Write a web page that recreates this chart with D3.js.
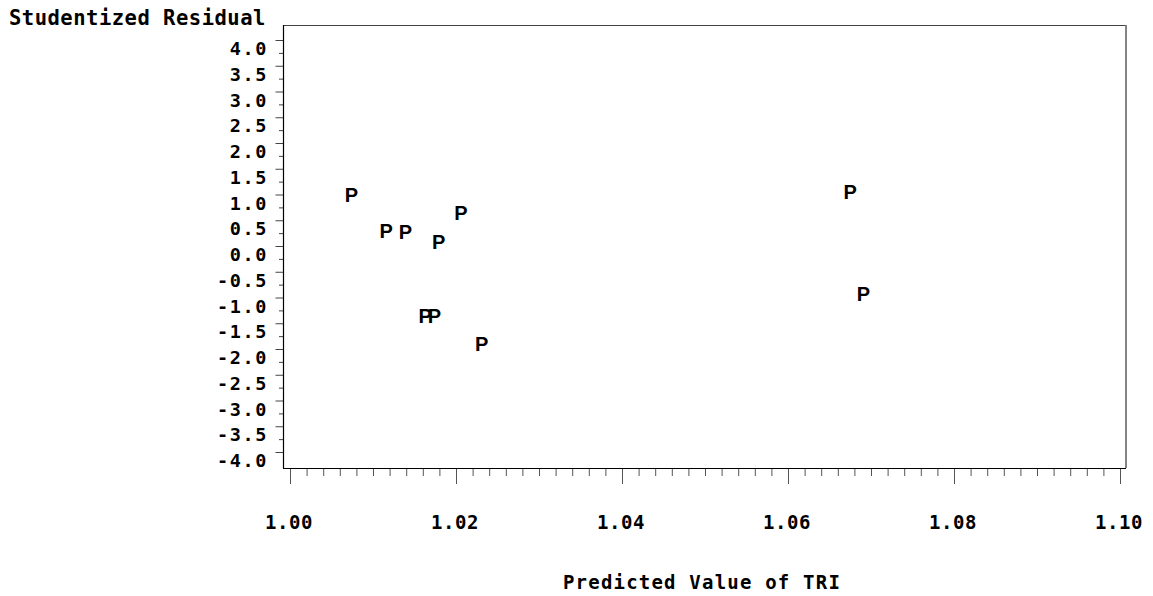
<!DOCTYPE html>
<html>
<head>
<meta charset="utf-8">
<script src="https://cdn.jsdelivr.net/npm/d3@7"></script>
<style>
  html, body { margin: 0; padding: 0; background: #fff; }
  svg { display: block; }
  .lbl { font-family: "DejaVu Sans Mono", monospace; font-weight: bold; fill: #000; }
  .mk { font-family: "Liberation Sans", Arial, sans-serif; font-weight: bold; fill: #000; }
</style>
</head>
<body>
<svg id="chart" width="1153" height="596"></svg>
<script>
// ---- data ----
const predicted = [1.0074, 1.0116, 1.0139, 1.0179, 1.0206, 1.0163, 1.0174, 1.0231, 1.0675, 1.0691];
const residuals = [0.987, 0.293, 0.268, 0.080, 0.643, -1.358, -1.358, -1.908, 1.051, -0.937];
const xTickValues = [1.00, 1.02, 1.04, 1.06, 1.08, 1.10];
const yTickValues = [4.0, 3.5, 3.0, 2.5, 2.0, 1.5, 1.0, 0.5, 0.0, -0.5, -1.0, -1.5, -2.0, -2.5, -3.0, -3.5, -4.0];
const xTitle = "Predicted Value of TRI";
const yTitle = "Studentized Residual";
const markerSymbol = "P";

// ---- layout ----
const svg = d3.select("#chart");
const frame = { left: 283, right: 1126, top: 25, bottom: 468 };

const x = d3.scaleLinear().domain([1.00, 1.10]).range([290, 1120]);
const y = d3.scaleLinear().domain([-4.0, 4.0]).range([452, 40]);

// frame
svg.append("line").attr("x1", frame.left).attr("x2", frame.right).attr("y1", frame.top + 0.5).attr("y2", frame.top + 0.5)
  .attr("stroke", "#444").attr("stroke-width", 1.2);
svg.append("line").attr("x1", frame.right).attr("x2", frame.right).attr("y1", frame.top).attr("y2", frame.bottom)
  .attr("stroke", "#777").attr("stroke-width", 1.8);

// x axis
const xMinor = d3.range(1.00, 1.1001, 0.002);
const xAxisMinor = d3.axisBottom(x).tickValues(xMinor).tickSize(8).tickFormat("");
const xAxisMajor = d3.axisBottom(x).tickValues(xTickValues).tickSize(16).tickFormat("");
const gxm = svg.append("g").attr("transform", `translate(0,${frame.bottom})`).call(xAxisMinor);
gxm.select(".domain").remove();
gxm.selectAll("line").attr("stroke", "#555");
const gxM = svg.append("g").attr("transform", `translate(0,${frame.bottom})`).call(xAxisMajor);
gxM.select(".domain").remove();
gxM.selectAll("line").attr("stroke", "#555");
svg.append("line").attr("x1", frame.left).attr("x2", frame.right).attr("y1", frame.bottom + 0.5).attr("y2", frame.bottom + 0.5)
  .attr("stroke", "#000").attr("stroke-width", 1.2);

svg.append("g").selectAll("text").data(xTickValues).join("text")
  .attr("class", "lbl")
  .attr("x", d => x(d) - 1)
  .attr("y", 529)
  .attr("text-anchor", "middle")
  .style("font-size", "19px")
  .style("letter-spacing", "0.6px")
  .text(d => d.toFixed(2));

// y axis
const yMinor = d3.range(-3.75, 4.0, 0.5);
const yAxisMinor = d3.axisLeft(y).tickValues(yMinor).tickSize(4).tickFormat("");
const yAxisMajor = d3.axisLeft(y).tickValues(yTickValues).tickSize(7.5).tickFormat("");
const gym = svg.append("g").attr("transform", `translate(${frame.left},0)`).call(yAxisMinor);
gym.select(".domain").remove();
gym.selectAll("line").attr("stroke", "#444");
const gyM = svg.append("g").attr("transform", `translate(${frame.left},0)`).call(yAxisMajor);
gyM.select(".domain").remove();
gyM.selectAll("line").attr("stroke", "#444");
svg.append("line").attr("x1", frame.left + 0.5).attr("x2", frame.left + 0.5).attr("y1", frame.top).attr("y2", frame.bottom)
  .attr("stroke", "#000").attr("stroke-width", 1.2);

svg.append("g").selectAll("text").data(yTickValues).join("text")
  .attr("class", "lbl")
  .attr("x", 268)
  .attr("y", d => y(d) + 15)
  .attr("text-anchor", "end")
  .style("font-size", "18.5px")
  .style("letter-spacing", "1.6px")
  .text(d => d.toFixed(1));

// titles
svg.append("text").attr("class", "lbl")
  .attr("x", 9).attr("y", 25)
  .style("font-size", "20.5px").style("letter-spacing", "0.5px")
  .text(yTitle);

svg.append("text").attr("class", "lbl")
  .attr("x", 702).attr("y", 589)
  .attr("text-anchor", "middle")
  .style("font-size", "19px").style("letter-spacing", "1.2px")
  .text(xTitle);

// points
svg.append("g").selectAll("text").data(predicted.map((p, i) => ({ p, r: residuals[i] }))).join("text")
  .attr("class", "mk")
  .attr("x", d => x(d.p))
  .attr("y", d => y(d.r))
  .attr("text-anchor", "middle")
  .attr("dominant-baseline", "central")
  .style("font-size", "20px")
  .text(markerSymbol);
</script>
</body>
</html>
